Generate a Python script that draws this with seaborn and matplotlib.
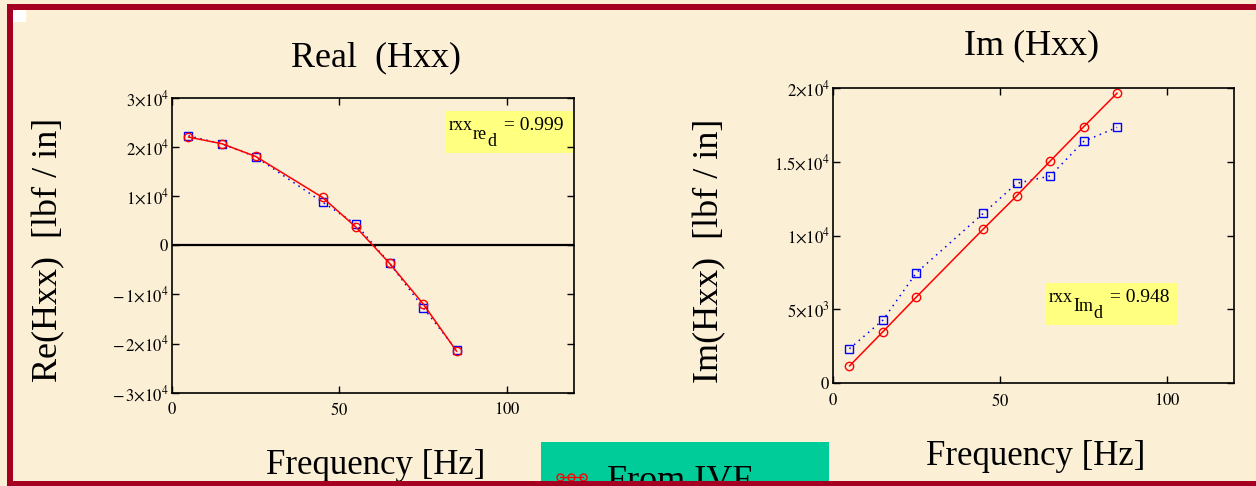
import matplotlib
matplotlib.use('Agg')
import matplotlib.pyplot as plt
import seaborn as sns
import pandas as pd
from matplotlib.patches import Rectangle
from matplotlib.lines import Line2D

# data
freq = [5, 15, 25, 45, 55, 65, 75, 85]
re_ivf = [21990, 20630, 18070, 9710, 3640, -3700, -11940, -21580]
re_meas = [22250, 20600, 18000, 8760, 4250, -3700, -12680, -21380]
im_ivf = [1170, 3490, 5840, 10440, 12690, 15040, 17360, 19640]
im_meas = [2340, 4280, 7480, 11500, 13530, 14030, 16370, 17320]

re_yticks = [-3e4, -2e4, -1e4, 0, 1e4, 2e4, 3e4]
re_ylabels = [r'$-\,3{\times}10^{4}$', r'$-\,2{\times}10^{4}$', r'$-\,1{\times}10^{4}$', '$0$',
              r'$1{\times}10^{4}$', r'$2{\times}10^{4}$', r'$3{\times}10^{4}$']
im_yticks = [0, 5e3, 1e4, 1.5e4, 2e4]
im_ylabels = ['$0$', r'$5{\times}10^{3}$', r'$1{\times}10^{4}$', r'$1.5{\times}10^{4}$', r'$2{\times}10^{4}$']
xticks = [0, 50, 100]

sns.set_style('ticks')
plt.rcParams['font.family'] = ['Liberation Serif', 'DejaVu Serif']
plt.rcParams['mathtext.fontset'] = 'stix'
for key in ['text.color', 'axes.labelcolor', 'xtick.color', 'ytick.color', 'axes.edgecolor']:
    plt.rcParams[key] = 'black'

bg = '#FBEFD6'
red = '#FF0000'
blue = '#0000FF'

df_re = pd.DataFrame({'freq': freq * 2, 'value': re_meas + re_ivf,
                      'source': ['Measured'] * 8 + ['IVF'] * 8})
df_im = pd.DataFrame({'freq': freq * 2, 'value': im_meas + im_ivf,
                      'source': ['Measured'] * 8 + ['IVF'] * 8})

fig = plt.figure(figsize=(12.56, 4.86), dpi=100, facecolor=bg)
ax1 = fig.add_axes([0.1367, 0.192, 0.3203, 0.607])
ax2 = fig.add_axes([0.663, 0.2113, 0.3197, 0.6082])

style_kw = dict(x='freq', y='value', hue='source', style='source',
                palette={'Measured': blue, 'IVF': red},
                markers={'Measured': 's', 'IVF': 'o'},
                dashes={'Measured': (1, 3), 'IVF': ''},
                markerfacecolor='none', markersize=6, markeredgewidth=1,
                linewidth=1.1, legend=False)

for ax, df in [(ax1, df_re), (ax2, df_im)]:
    sns.lineplot(data=df, ax=ax, **style_kw)
    # hollow markers need edge colours per line
    for ln in ax.get_lines():
        ln.set_markeredgecolor(ln.get_color())
    ax.set_facecolor('none')
    ax.set_xlim(0, 120)
    ax.set_xticks(xticks)
    ax.set_xticklabels([f'${t}$' for t in xticks])
    ax.set_xlabel('')
    ax.set_ylabel('')
    ax.tick_params(direction='in', top=True, right=True, length=5, width=1,
                   labelsize=12, colors='black')
    ax.tick_params(axis='x', pad=7)
    ax.tick_params(axis='y', pad=2)
    for sp in ax.spines.values():
        sp.set_color('black')
        sp.set_linewidth(1.2)

ax1.set_ylim(-3e4, 3e4)
ax1.set_yticks(re_yticks)
ax1.set_yticklabels(re_ylabels)
ax1.axhline(0, color='black', linewidth=1.6, zorder=1)

ax2.set_ylim(0, 2e4)
ax2.set_yticks(im_yticks)
ax2.set_yticklabels(im_ylabels)


def corr_label(ax, x, y, sub, value):
    # rxx with full-size stacked subscripts, as on the slide
    t1 = ax.text(x, y, 'rxx', transform=ax.transAxes, fontsize=13, va='baseline', ha='left')
    t2 = ax.annotate(sub, xy=(1, 0), xycoords=t1, xytext=(0, -6.5), textcoords='offset points',
                     fontsize=13, va='bottom', ha='left')
    t3 = ax.annotate('d', xy=(1, 0), xycoords=t2, xytext=(0, -5), textcoords='offset points',
                     fontsize=13, va='bottom', ha='left')
    ax.annotate(' = ' + value, xy=(1, 0), xycoords=t3, xytext=(2, 11.5), textcoords='offset points',
                fontsize=14, va='bottom', ha='left')


# correlation boxes
ax1.add_patch(Rectangle((0.682, 0.813), 0.318, 0.142, transform=ax1.transAxes,
                        facecolor='#FFFF80', edgecolor='none', zorder=0.5))
corr_label(ax1, 0.689, 0.89, 're', '0.999')
ax2.add_patch(Rectangle((0.529, 0.197), 0.33, 0.142, transform=ax2.transAxes,
                        facecolor='#FFFF80', edgecolor='none', zorder=0.5))
corr_label(ax2, 0.539, 0.276, 'Im', '0.948')

# titles and axis labels
fig.text(0.2994, 0.8807, 'Real  (Hxx)', fontsize=26, ha='center', va='center')
fig.text(0.8217, 0.905, 'Im (Hxx)', fontsize=26, ha='center', va='center')
fig.text(0.039, 0.486, 'Re(Hxx)  [lbf / in]', fontsize=26, rotation=90, ha='center', va='center')
fig.text(0.565, 0.484, 'Im(Hxx)  [lbf / in]', fontsize=26, rotation=90, ha='center', va='center')
fig.text(0.299, 0.043, 'Frequency [Hz]', fontsize=25, ha='center', va='center')
fig.text(0.8245, 0.0597, 'Frequency [Hz]', fontsize=25, ha='center', va='center')

# legend box cut by the slide edge
handle = Line2D([], [], color=red, marker='o', markerfacecolor='none',
                markeredgecolor=red, markersize=5, linewidth=1)
fig.add_artist(Rectangle((0.4307, -0.05), 0.2293, 0.1405, transform=fig.transFigure,
                         facecolor='#00CC99', edgecolor='none', zorder=4))
fig.legend(handles=[handle], labels=['From IVF'], loc='upper left',
           bbox_to_anchor=(0.4307, 0.061), frameon=False, fontsize=26,
           numpoints=3, handlelength=1.25, handletextpad=0.35, borderpad=0.22,
           borderaxespad=0)

# slide border
border = '#A50021'
W, H = 1256, 486
for (x0, y0, w, h) in [(7, 4, W - 7, 6), (7, 4, 6, H - 4), (7, 481, W - 7, 6)]:
    fig.add_artist(Rectangle((x0 / W, 1 - (y0 + h) / H), w / W, h / H,
                             transform=fig.transFigure, facecolor=border,
                             edgecolor='none', zorder=10))
fig.add_artist(Rectangle((13 / W, 1 - 22 / H), 13 / W, 12 / H, transform=fig.transFigure,
                         facecolor='white', edgecolor='none', zorder=10))

fig.savefig('out.png', dpi=100, facecolor=bg)
